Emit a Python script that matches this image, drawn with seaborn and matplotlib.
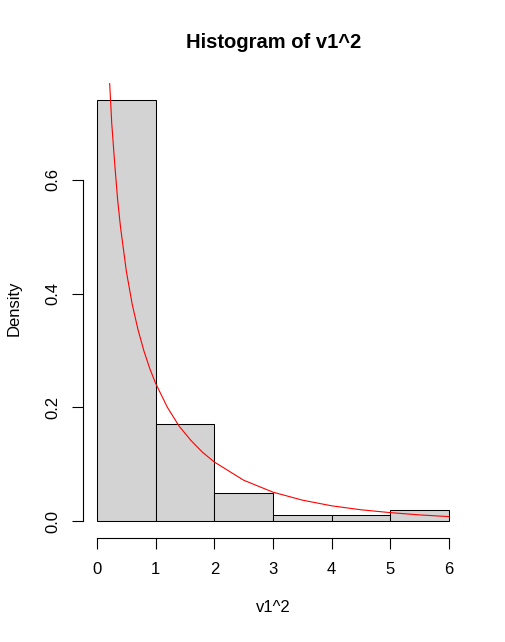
import numpy as np
import pandas as pd
import matplotlib
matplotlib.use("Agg")
import matplotlib.pyplot as plt
import seaborn as sns

# histogram of v1^2 (density per unit-width bin)
bin_edges = [0, 1, 2, 3, 4, 5, 6]
bin_mids = [0.5, 1.5, 2.5, 3.5, 4.5, 5.5]
densities = [0.74, 0.17, 0.05, 0.01, 0.01, 0.02]

# red curve
curve_x = [0.215, 0.25, 0.3, 0.35, 0.4, 0.5, 0.6, 0.7, 0.8, 0.9, 1.0, 1.2, 1.4,
           1.6, 1.8, 2.0, 2.5, 3.0, 3.5, 4.0, 4.5, 5.0, 5.5, 6.0]
curve_y = [0.77, 0.70, 0.63, 0.566, 0.517, 0.439, 0.381, 0.336, 0.299, 0.268,
           0.242, 0.200, 0.167, 0.142, 0.121, 0.104, 0.072, 0.051, 0.037,
           0.027, 0.020, 0.015, 0.011, 0.008]

hist_df = pd.DataFrame({"x": bin_mids, "density": densities})
curve_df = pd.DataFrame({"x": curve_x, "y": curve_y})

sns.set_style("white", {"xtick.bottom": True, "ytick.left": True})
plt.rcParams['font.family'] = ['Liberation Sans', 'DejaVu Sans']
plt.rcParams['text.color'] = 'black'

fig = plt.figure(figsize=(5.06, 6.42), dpi=100)
ax = fig.add_axes([0.164, 0.162, 0.751, 0.708])

sns.histplot(data=hist_df, x="x", weights="density", bins=bin_edges,
             stat="count", color="#D3D3D3", edgecolor="black", linewidth=0.75,
             alpha=1, ax=ax)
sns.lineplot(data=curve_df, x="x", y="y", color="red", linewidth=0.8, ax=ax)

ax.set_xlim(-0.24, 6.24)
ax.set_ylim(-0.0296, 0.7696)
ax.set_xticks([0, 1, 2, 3, 4, 5, 6])
ax.set_yticks([0.0, 0.2, 0.4, 0.6])
ax.set_yticklabels(["0.0", "0.2", "0.4", "0.6"], rotation=90, va="center")

for side in ["top", "right"]:
    ax.spines[side].set_visible(False)
ax.spines["left"].set_bounds(0, 0.6)
ax.spines["bottom"].set_bounds(0, 6)
for side in ["left", "bottom"]:
    ax.spines[side].set_linewidth(0.8)
    ax.spines[side].set_color("black")

ax.tick_params(axis="both", direction="out", length=8, width=0.8,
               labelsize=12, colors="black", bottom=True, left=True)
ax.tick_params(axis="x", pad=9)
ax.tick_params(axis="y", pad=8)
ax.set_xlabel("")
ax.set_ylabel("")

fig.text(0.54, 1 - 43 / 642, "Histogram of v1^2", ha="center", va="center",
         fontsize=14.5, fontweight="bold")
fig.text(0.54, 1 - 607 / 642, "v1^2", ha="center", va="center", fontsize=12)
fig.text(14 / 506, 1 - 308 / 642, "Density", ha="center", va="center",
         rotation=90, fontsize=12)

plt.savefig("out.png", dpi=100)
